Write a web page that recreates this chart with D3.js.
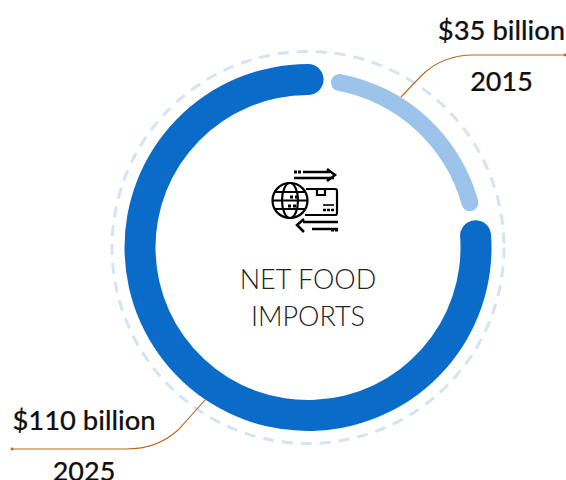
<!DOCTYPE html>
<html>
<head>
<meta charset="utf-8">
<script src="https://cdnjs.cloudflare.com/ajax/libs/d3/7.8.5/d3.min.js"></script>
<style>
  html, body { margin: 0; padding: 0; background: #fff; }
  svg { display: block; }
  text { font-family: Lato, sans-serif; }
</style>
</head>
<body>
<script>
'use strict';

const years = ["2015", "2025"];
const values = [35, 110];
const valueLabels = ["$35 billion", "$110 billion"];
const centerLines = ["NET FOOD", "IMPORTS"];

(function() {
  let width = 566;
  let height = 480;
  let cx = 308;
  let cy = 247.5;
  let degree = Math.PI / 180;

  let svg = d3.select("body").append("svg")
    .attr("width", width)
    .attr("height", height);

  let ring = svg.append("g").attr("transform", `translate(${cx},${cy})`);

  ring.append("circle")
    .attr("r", 196)
    .attr("fill", "none")
    .attr("stroke", "#d5e4f5")
    .attr("stroke-width", 3)
    .attr("stroke-dasharray", "11 8");

  let pie = d3.pie().sort(null)(values);
  let arcPath = d3.arc().cornerRadius(d => d.cornerRadius);

  // each slice keeps its data angle, the insets make the gap and the round ends
  let styles = [
    { color: "#9cc3ea", width: 17, startInset: 7.9 * degree, endInset: 9.5 * degree },
    { color: "#0a6bc8", width: 31, startInset: -6.2 * degree, endInset: -5.3 * degree }
  ];

  ring.selectAll("path.slice")
    .data(pie)
    .enter()
    .append("path")
    .attr("class", "slice")
    .attr("fill", (d, i) => styles[i].color)
    .attr("d", (d, i) => arcPath({
      innerRadius: 168 - styles[i].width / 2,
      outerRadius: 168 + styles[i].width / 2,
      cornerRadius: styles[i].width / 2,
      startAngle: d.startAngle + styles[i].startInset,
      endAngle: d.endAngle - styles[i].endInset
    }));

  // leader lines
  let leaderColor = "#b96a1e";
  let leaders = svg.append("g").attr("fill", "none").attr("stroke", leaderColor).attr("stroke-width", 1.1);
  leaders.append("path").attr("d", "M401,97 L421,76 C433,64 451,55 474,55 L565,55");
  leaders.append("path").attr("d", "M206,399 L178,430 C165,442 147,449 126,449 L12,449");
  svg.append("circle").attr("cx", 565).attr("cy", 55).attr("r", 1.4).attr("fill", leaderColor);
  svg.append("circle").attr("cx", 12).attr("cy", 449).attr("r", 1.4).attr("fill", leaderColor);

  // value and year labels
  let labelPos = [
    { x: 501.5, valueY: 40, yearY: 91 },
    { x: 84, valueY: 430, yearY: 481 }
  ];
  svg.selectAll("text.value")
    .data(valueLabels)
    .enter()
    .append("text")
    .attr("class", "value")
    .attr("x", (d, i) => labelPos[i].x)
    .attr("y", (d, i) => labelPos[i].valueY)
    .attr("text-anchor", "middle")
    .attr("font-size", 27.4)
    .attr("font-weight", 500)
    .attr("stroke", "#111")
    .attr("stroke-width", 0.15)
    .attr("fill", "#111")
    .text(d => d);
  svg.selectAll("text.year")
    .data(years)
    .enter()
    .append("text")
    .attr("class", "year")
    .attr("x", (d, i) => labelPos[i].x)
    .attr("y", (d, i) => labelPos[i].yearY)
    .attr("text-anchor", "middle")
    .attr("font-size", 27)
    .attr("font-weight", 500)
    .attr("stroke", "#111")
    .attr("stroke-width", 0.15)
    .attr("fill", "#111")
    .text(d => d);

  // centre caption
  svg.selectAll("text.center")
    .data(centerLines)
    .enter()
    .append("text")
    .attr("class", "center")
    .attr("x", cx)
    .attr("y", (d, i) => 289 + i * 36.5)
    .attr("text-anchor", "middle")
    .attr("font-size", 27)
    .attr("font-weight", 300)
    .attr("fill", "#222")
    .text(d => d);

  // import/export icon
  let icon = svg.append("g")
    .attr("fill", "none")
    .attr("stroke", "#000")
    .attr("stroke-width", 2.2);
  // box behind the globe
  icon.append("path").attr("d", "M306,189 L335,189 Q337,189 337,191 L337,213 Q337,215 335,215 L305,215");
  icon.append("path").attr("d", "M317,189 L317,195 L325,195 L325,189");
  // globe
  icon.append("circle").attr("cx", 290).attr("cy", 200.5).attr("r", 17.5).attr("fill", "#fff");
  icon.append("ellipse").attr("cx", 290).attr("cy", 200.5).attr("rx", 8).attr("ry", 17.5);
  icon.append("path").attr("d", "M275,192 L305,192 M273,200.5 L307,200.5 M275,209 L305,209");
  // arrows
  icon.append("path").attr("d", "M303,172 L330,172 M294,178 L334,178 M327,169 L335,175 L327,181").attr("stroke-width", 2.5);
  icon.append("path").attr("d", "M338,222 L303,222 M338,229 L312,229 M304,219 L297,225 L304,232").attr("stroke-width", 2.5);
  // little dots and label marks
  let dots = [[294, 172], [298, 172], [331, 230], [335, 230], [290, 197], [295, 197], [288, 206], [293, 206]];
  icon.selectAll("rect.dot")
    .data(dots)
    .enter()
    .append("rect")
    .attr("class", "dot")
    .attr("x", d => d[0])
    .attr("y", d => d[1] - 1.5)
    .attr("width", 3)
    .attr("height", 3)
    .attr("fill", "#000")
    .attr("stroke", "none");
  icon.append("path").attr("d", "M323,205 L334,205").attr("stroke-width", 1.6);
  icon.append("path").attr("d", "M323,210 L334,210").attr("stroke-width", 2.6).attr("stroke-dasharray", "3 1");
})();
</script>
</body>
</html>
